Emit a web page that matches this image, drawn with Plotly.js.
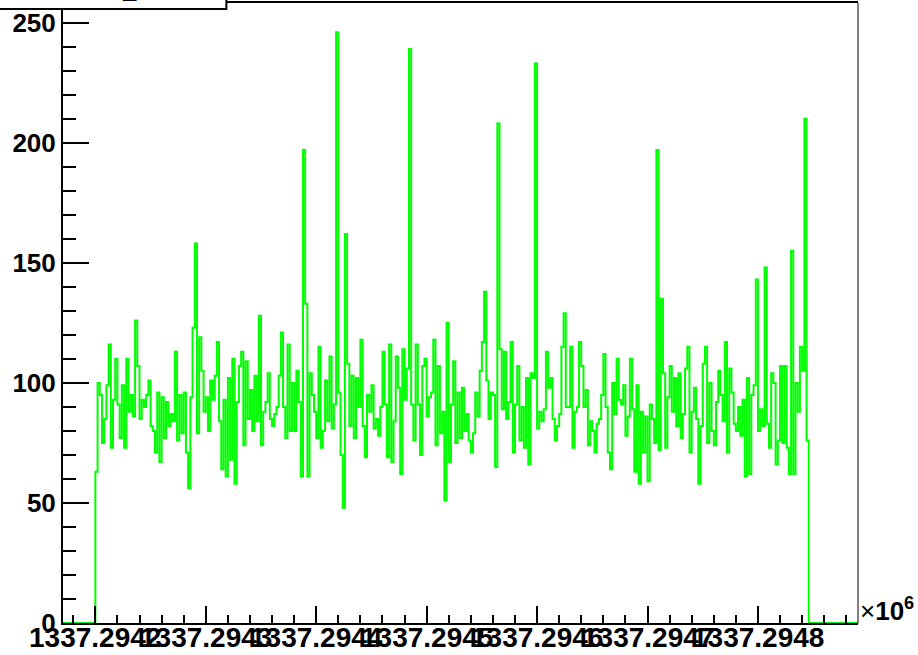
<!DOCTYPE html>
<html><head><meta charset="utf-8">
<script src="https://cdn.plot.ly/plotly-3.0.1.min.js"></script>
<style>html,body{margin:0;padding:0;background:#fff}#chart{width:918px;height:655px}</style>
</head><body><div id="chart"></div>
<script>
const histTitle = "rate_time";
const firstBinEdge = 1337294200;
const binWidth = 2;
const counts = [
 63,100,95,75,85,99,116,73,93,110,91,77,99,73,110,88,95,86,126,107,
 85,93,90,95,101,82,80,71,96,67,94,77,92,82,87,84,113,76,95,79,
 96,71,56,94,123,158,79,119,105,88,94,80,101,93,103,117,84,64,93,61,
 102,68,110,58,92,107,113,74,109,85,97,80,103,84,128,74,88,92,104,85,
 82,87,90,103,121,90,77,116,80,100,80,105,92,61,197,133,61,104,95,88,
 77,115,73,80,101,84,111,81,91,246,96,70,48,162,108,82,103,77,102,90,
 118,82,69,95,88,99,81,85,78,90,113,91,69,116,67,84,111,98,62,114,
 93,106,239,91,76,116,91,70,107,110,86,94,96,118,74,107,79,88,51,125,
 67,91,109,75,96,77,98,80,87,76,71,79,96,86,105,117,138,101,85,96,
 95,65,208,114,89,113,85,92,117,71,91,107,76,90,73,102,66,104,102,233,
 81,88,84,89,113,98,102,85,76,82,87,115,129,90,90,115,73,88,90,117,
 107,90,97,74,84,80,71,83,85,95,112,90,71,64,100,87,110,93,91,99,
 78,86,110,89,63,99,58,88,71,86,59,91,85,75,197,72,135,104,73,94,
 107,88,102,82,104,77,87,106,115,71,88,98,85,58,82,108,115,75,100,80,
 74,92,105,95,84,117,71,106,96,83,80,90,78,93,61,102,62,95,99,143,
 80,89,82,148,83,73,104,100,66,76,107,75,107,73,62,155,62,100,88,115,
 105,210,76
];
const xTickValues = [1337294200,1337294300,1337294400,1337294500,1337294600,1337294700,1337294800];
const xTickLabels = ["1337.2942","1337.2943","1337.2944","1337.2945","1337.2946","1337.2947","1337.2948"];
const yTickValues = [0,50,100,150,200,250];
const yTickLabels = ["0","50","100","150","200","250"];
const xExponentLabel = "×<b>10</b><sup><b>6</b></sup>";

const xMin = 1337294170.7, xMax = 1337294890.6;
const xs = [xMin], ys = [0];
for (let i = 0; i < counts.length; i++) { xs.push(firstBinEdge + i * binWidth); ys.push(counts[i]); }
xs.push(firstBinEdge + counts.length * binWidth); ys.push(0);
xs.push(xMax); ys.push(0);

const FONT = "Liberation Sans, Arial, Helvetica, sans-serif";
const trace = {
  type: "scatter", mode: "lines", x: xs, y: ys,
  line: {shape: "hv", color: "#00ff00", width: 2},
  hoverinfo: "skip", showlegend: false
};
const xLabelAnnotations = xTickValues.map((v, i) => ({
  text: xTickLabels[i], xref: "x", yref: "paper", x: v, y: 0, xanchor: "center", yanchor: "top",
  yshift: 3, showarrow: false, font: {family: FONT, size: 28, color: "#000", weight: "bold"}
}));
const layout = {
  width: 918, height: 655,
  paper_bgcolor: "#fff", plot_bgcolor: "#fff",
  margin: {l: 63, r: 60, t: 3, b: 32, autoexpand: false},
  showlegend: false,
  xaxis: {
    range: [xMin, xMax], tickmode: "array", tickvals: xTickValues, ticktext: xTickLabels,
    showticklabels: false,
    ticks: "inside", ticklen: 17, tickwidth: 2, tickcolor: "#000",
    minor: {tickmode: "linear", tick0: 1337294200, dtick: 20, ticks: "inside", ticklen: 8, tickwidth: 2, tickcolor: "#000"},
    showline: true, linewidth: 2, linecolor: "#000", mirror: true,
    showgrid: false, zeroline: false
  },
  yaxis: {
    range: [0, 258.2], tickmode: "array", tickvals: yTickValues, ticktext: yTickLabels,
    ticks: "inside", ticklen: 26, tickwidth: 2, tickcolor: "#000",
    minor: {tickmode: "linear", tick0: 0, dtick: 10, ticks: "inside", ticklen: 13, tickwidth: 2, tickcolor: "#000"},
    showline: true, linewidth: 2, linecolor: "#000",
    showgrid: false, zeroline: false,
    tickfont: {family: FONT, size: 26, color: "#000", weight: "bold"}
  },
  shapes: [
    {type: "line", xref: "paper", yref: "paper", x0: 1, x1: 1, y0: 0, y1: 1, line: {color: "#000", width: 1}, layer: "above"},
    {type: "rect", xref: "paper", yref: "paper", x0: -0.12, x1: 0.2055, y0: 0.9903, y1: 1.05,
     line: {color: "#000", width: 2}, fillcolor: "#fff", layer: "above"}
  ],
  annotations: [
    {text: histTitle, xref: "paper", yref: "paper", x: 0.0877, y: 0.9903, xanchor: "center", yanchor: "bottom",
     yshift: 4, showarrow: false, font: {family: FONT, size: 24, color: "#000", weight: "bold"}},
    {text: xExponentLabel, xref: "paper", yref: "paper", x: 1.0, y: 0.022, xanchor: "left", yanchor: "middle",
     showarrow: false, font: {family: FONT, size: 26, color: "#000"}}
  ].concat(xLabelAnnotations)
};
Plotly.newPlot("chart", [trace], layout, {staticPlot: true, displayModeBar: false});
</script></body></html>
